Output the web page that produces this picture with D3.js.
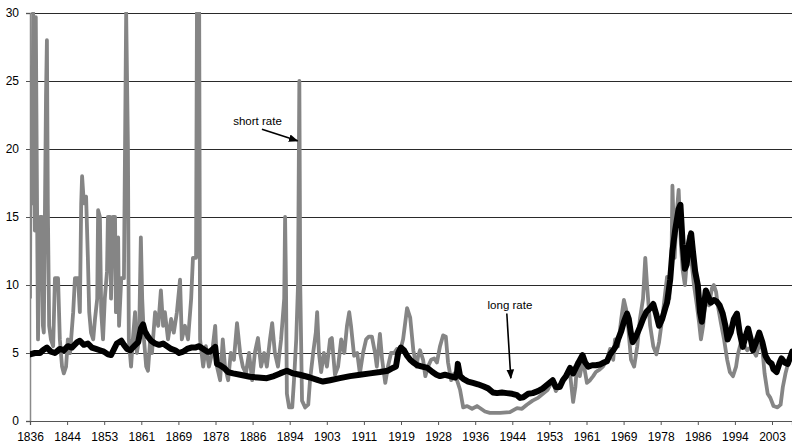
<!DOCTYPE html>
<html>
<head>
<meta charset="utf-8">
<script src="https://cdn.jsdelivr.net/npm/d3@7"></script>
<style>
  html, body { margin: 0; padding: 0; background: #fff; }
  svg { display: block; font-family: Arial, "Liberation Sans", sans-serif; }
</style>
</head>
<body>
<svg id="chart" width="792" height="446"></svg>
<script>
// ---- data (decimal year, percent) ----
const tickLabels = ["1836","1844","1853","1861","1869","1878","1886","1894","1903","1911","1919","1928","1936","1944","1953","1961","1969","1978","1986","1994","2003"];
const yTicks = [0, 5, 10, 15, 20, 25, 30];

const shortRate = [
 [1836.5,9],[1836.7,26],[1837.0,16],[1837.2,30],[1837.6,14],[1837.8,29.7],[1838.1,15],[1838.3,6],[1838.75,15],[1839.2,15],[1839.4,7],[1839.6,6.5],
 [1840.1,24],[1840.3,28],[1840.5,16],[1840.8,7],[1841.2,6],[1841.7,5.5],[1842.1,10.5],[1842.8,10.5],[1843.2,6],[1843.7,4],[1844.1,3.5],[1844.6,4],
 [1845.0,6],[1845.5,5],[1846.2,8],[1846.6,10.5],[1847.3,10.5],[1847.7,8],[1848.0,16],[1848.2,18],[1848.6,16],[1849.1,16.5],[1849.5,12],[1849.8,8],
 [1850.2,6.5],[1850.7,6],[1851.1,7.5],[1851.6,9],[1851.8,15.5],[1852.2,15],[1852.5,8],[1852.9,6],[1853.3,9],[1853.8,11],[1854.0,15],[1854.5,15],
 [1854.7,9],[1855.1,15],[1855.6,15],[1855.8,8],[1856.3,13.5],[1856.5,7],[1857.0,10.5],[1857.6,10.5],[1858.1,30],[1858.5,20],[1858.7,6],[1859.2,4],
 [1859.6,6],[1860.1,8],[1860.5,5],[1861.0,6],[1861.4,13.5],[1861.7,9],[1862.1,6],[1862.6,4],[1863.0,3.7],[1863.5,6],[1863.9,5],[1864.6,8],
 [1865.3,7],[1865.9,9.6],[1866.4,7],[1866.8,8],[1867.5,6],[1868.2,7.5],[1868.8,6.5],[1869.5,8],[1870.2,10.4],[1870.6,6],[1871.3,7],[1872.0,6],
 [1872.7,9],[1873.1,12],[1873.8,12],[1874.0,30],[1874.5,30],[1874.7,6],[1875.4,4],[1876.0,5.5],[1876.7,4],[1877.4,5],[1878.1,7],[1878.5,4],
 [1879.2,3],[1879.8,6],[1880.3,4],[1881.0,3],[1881.6,5],[1882.3,4.5],[1883.0,7.2],[1883.7,5],[1884.3,4],[1885.0,3.5],[1885.7,5],[1886.4,3],
 [1887.0,5],[1887.7,6.1],[1888.4,4],[1889.1,5],[1889.7,4],[1890.4,6],[1890.9,7.2],[1891.5,5],[1892.2,4],[1892.9,6],[1893.6,9],[1893.8,15],
 [1894.0,10],[1894.2,2],[1894.7,1],[1895.4,1],[1895.8,3],[1896.3,6],[1896.7,10],[1897.0,25],[1897.2,10],[1897.6,1.5],[1898.3,1],[1899.0,1.2],
 [1899.4,3],[1900.1,5],[1900.7,6.5],[1901.0,8],[1901.4,5],[1901.9,3.6],[1902.5,5],[1903.2,4],[1903.9,6],[1904.3,6.1],[1905.0,3.4],[1905.7,4],
 [1906.4,6],[1907.1,5],[1907.7,7],[1908.2,8],[1908.6,7],[1909.3,4.8],[1910.0,5],[1910.6,3.5],[1911.3,5],[1912.0,6],[1912.6,6.2],[1913.3,6.2],
 [1914.0,5],[1914.4,4],[1915.1,6.4],[1915.6,4.5],[1916.3,2.8],[1916.9,4],[1917.6,5],[1918.3,5],[1918.9,5.3],[1919.6,5.1],[1920.3,6],[1921.0,7.8],
 [1921.2,8.3],[1921.9,7.6],[1922.6,5.2],[1923.3,4],[1923.7,4.8],[1924.1,5.2],[1924.8,4.5],[1925.3,3.3],[1925.9,4],[1926.6,4.5],[1927.3,4.6],[1927.9,4.3],
 [1928.6,5.5],[1929.3,6.3],[1929.9,6.2],[1930.4,4.3],[1931.1,3],[1931.8,3.5],[1932.4,3],[1933.1,2.3],[1933.8,1],[1934.7,1.1],[1935.8,0.9],[1936.9,1.1],
 [1937.8,0.9],[1938.7,0.7],[1939.8,0.6],[1942.1,0.6],[1944.3,0.65],[1945.9,0.95],[1947.0,0.9],[1948.1,1.2],[1949.4,1.5],[1950.6,1.7],[1951.7,2.0],[1952.8,2.3],
 [1953.9,3.0],[1954.6,2.2],[1955.5,2.6],[1956.2,3.1],[1956.9,3.2],[1957.8,3.5],[1958.5,1.4],[1959.0,2.5],[1959.4,4.3],[1960.0,3.3],[1960.7,4.5],[1961.6,2.8],
 [1962.3,3.0],[1963.0,3.3],[1963.6,3.6],[1964.5,3.8],[1965.2,4.0],[1966.1,4.5],[1966.8,5.3],[1967.5,4.5],[1967.9,6.0],[1968.6,5.5],[1969.3,7.5],[1969.9,8.9],
 [1970.4,8.2],[1970.9,6.8],[1971.5,4.5],[1972.2,4.0],[1972.9,5.5],[1973.5,7.5],[1974.2,9],[1974.7,12],[1975.1,10],[1975.8,7],[1976.5,5.5],[1977.2,4.9],
 [1977.8,5.8],[1978.5,7.5],[1979.2,9.5],[1979.6,10.6],[1980.1,9],[1980.6,12],[1980.8,17.3],[1981.3,12],[1981.7,15],[1982.2,17.0],[1982.7,13],[1983.1,11.1],
 [1983.6,10],[1984.0,11.5],[1984.5,13.6],[1985.0,12],[1985.6,10.1],[1986.3,8.5],[1986.8,7.2],[1987.2,6.0],[1987.7,7],[1988.3,9.2],[1989.0,8.5],[1989.7,9.8],
 [1990.1,10],[1990.6,9.5],[1991.0,8.5],[1991.7,7.2],[1992.4,6.0],[1993.1,4.5],[1993.7,3.6],[1994.4,3.3],[1995.1,4.0],[1995.5,4.9],[1996.2,5.8],[1996.9,5.6],
 [1997.6,5.2],[1998.3,5.4],[1998.9,5.2],[1999.6,4.8],[2000.3,5.6],[2001.0,5.3],[2001.5,3.5],[2002.2,2],[2002.8,1.7],[2003.5,1.1],[2004.4,1.0],[2005.1,1.2],
 [2005.6,2.5],[2006.2,3.5],[2006.9,4.4],[2007.6,4.8],[2007.7,4.9]
];

const longRate = [
 [1836.5,4.9],[1837.6,5.0],[1838.75,5.0],[1839.4,5.2],[1840.3,5.4],[1841.2,5.1],[1842.1,5.0],[1843.2,5.3],[1844.1,5.2],[1845.0,5.5],[1845.9,5.4],[1847.1,5.8],
 [1847.7,5.9],[1848.6,5.6],[1849.5,5.7],[1850.4,5.4],[1851.3,5.3],[1852.2,5.2],[1853.1,5.1],[1854.0,4.9],[1854.7,4.85],[1855.4,5.3],[1856.0,5.7],[1857.0,5.9],
 [1857.6,5.6],[1858.3,5.3],[1859.0,5.2],[1859.9,5.5],[1860.8,5.8],[1861.4,6.8],[1861.9,7.1],[1862.3,6.6],[1863.0,6.2],[1863.7,5.9],[1864.6,5.7],[1865.5,5.6],
 [1866.4,5.7],[1867.3,5.5],[1868.2,5.3],[1869.1,5.2],[1870.0,5.0],[1870.9,5.1],[1871.8,5.3],[1872.7,5.4],[1873.6,5.4],[1874.5,5.5],[1875.4,5.3],[1876.3,5.1],
 [1876.9,5.1],[1877.6,5.3],[1878.1,5.45],[1878.5,4.2],[1879.2,4.1],[1880.1,3.9],[1881.0,3.6],[1882.1,3.5],[1883.7,3.4],[1885.9,3.25],[1887.7,3.2],[1889.7,3.15],
 [1891.3,3.3],[1892.7,3.5],[1894.2,3.7],[1895.6,3.5],[1897.1,3.4],[1899.4,3.2],[1901.2,3.0],[1902.3,2.9],[1903.9,3.0],[1906.1,3.15],[1908.4,3.3],[1910.6,3.4],
 [1912.9,3.5],[1915.1,3.6],[1916.9,3.7],[1918.0,3.9],[1918.7,4.0],[1919.2,5.0],[1919.8,5.4],[1920.5,5.2],[1921.2,4.8],[1921.9,4.5],[1922.6,4.3],[1923.5,4.1],
 [1924.6,4.0],[1925.8,3.9],[1926.9,3.6],[1927.8,3.4],[1928.6,3.3],[1929.7,3.4],[1930.8,3.3],[1932.0,3.2],[1932.4,3.5],[1932.6,4.2],[1933.1,3.3],[1933.8,3.1],
 [1934.9,2.9],[1936.0,2.8],[1937.1,2.7],[1938.3,2.55],[1939.4,2.4],[1940.5,2.1],[1941.4,2.05],[1942.5,2.1],[1943.6,2.05],[1944.8,2.0],[1945.9,1.9],[1946.6,1.7],
 [1947.3,1.75],[1948.4,2.0],[1949.4,2.05],[1950.6,2.2],[1951.7,2.4],[1952.8,2.7],[1953.9,3.0],[1954.6,2.5],[1955.5,2.5],[1956.2,3.0],[1956.9,3.3],[1957.8,3.9],
 [1958.5,3.5],[1959.4,4.1],[1960.6,4.85],[1961.2,4.3],[1961.9,4.0],[1962.8,4.1],[1963.6,4.1],[1964.5,4.15],[1965.4,4.3],[1966.1,4.4],[1966.8,4.9],[1967.5,5.2],
 [1968.1,5.5],[1968.6,6.0],[1969.3,6.6],[1969.9,7.3],[1970.6,7.9],[1971.0,7.5],[1971.5,6.4],[1971.9,5.8],[1972.6,6.2],[1973.5,6.9],[1974.2,7.5],[1974.9,8.0],
 [1975.8,8.3],[1976.5,8.6],[1977.2,7.8],[1977.8,7.0],[1978.5,7.5],[1979.2,8.3],[1979.6,8.7],[1980.3,10.4],[1980.8,12.5],[1981.4,14.0],[1982.2,15.6],[1982.6,15.9],
 [1983.1,13.0],[1983.6,11.2],[1984.0,11.5],[1984.5,13.0],[1985.0,13.8],[1985.4,12.5],[1985.9,11],[1986.5,10.0],[1987.0,8.0],[1987.4,7.3],[1987.9,8.5],[1988.3,9.6],
 [1988.8,9.2],[1989.4,8.7],[1990.1,8.9],[1990.7,8.8],[1991.4,8.5],[1992.1,7.9],[1992.7,7.0],[1993.2,6.0],[1993.9,6.5],[1994.6,7.5],[1995.3,7.9],[1995.9,6.5],
 [1996.6,5.45],[1997.3,6.3],[1997.8,6.8],[1998.4,6.0],[1998.9,5.2],[1999.6,5.8],[2000.3,6.5],[2001.0,5.8],[2001.7,4.8],[2002.4,4.4],[2003.1,4.2],[2003.5,3.8],
 [2004.2,3.6],[2004.9,4.3],[2005.3,4.6],[2006.0,4.3],[2006.7,4.2],[2007.4,4.8],[2007.7,5.1]
];

const annotations = [
  { text: "short rate", tx: 1887.6, ty: 21.75, from: [1888.6, 21.45], to: [1896.6, 20.6] },
  { text: "long rate",  tx: 1944.3, ty: 8.25,  from: [1943.6, 7.9],  to: [1944.5, 3.15] }
];

// ---- layout ----
const M = { left: 30, right: 792, top: 13, bottom: 421 };
const firstYear = 1836.5, monthsPerTick = 100;
const x = d3.scaleLinear().domain([firstYear, firstYear + (M.right - M.left) / 4.452]).range([M.left, M.right]);
const y = d3.scaleLinear().domain([0, 30]).range([M.bottom, M.top]);

const svg = d3.select("#chart");
const defs = svg.append("defs");
defs.append("clipPath").attr("id", "clip")
  .append("rect").attr("x", M.left).attr("y", M.top - 1).attr("width", M.right - M.left).attr("height", M.bottom - M.top + 1);
defs.append("marker").attr("id", "arrow")
  .attr("viewBox", "0 0 10 10").attr("refX", 9).attr("refY", 5)
  .attr("markerWidth", 6).attr("markerHeight", 6).attr("orient", "auto")
  .attr("markerUnits", "strokeWidth")
  .append("path").attr("d", "M0,1 L10,5 L0,9 z").attr("fill", "#000");

// gridlines
svg.append("g").selectAll("line").data(yTicks.filter(d => d > 0)).join("line")
  .attr("x1", M.left).attr("x2", M.right)
  .attr("y1", d => Math.round(y(d)) + 0.5).attr("y2", d => Math.round(y(d)) + 0.5)
  .attr("stroke", "#2a2a2a").attr("stroke-width", 1);

// y axis
const yAxis = d3.axisLeft(y).tickValues(yTicks).tickSize(4).tickFormat(d3.format("d"));
const gy = svg.append("g").attr("transform", `translate(${M.left},0)`).call(yAxis);
gy.select(".domain").attr("stroke", "#8a8a8a").attr("stroke-width", 1.5);
gy.selectAll(".tick line").attr("stroke", "#555");
gy.selectAll("text").attr("font-size", 12).attr("fill", "#000").attr("x", -11)
  .attr("font-family", "Arial, 'Liberation Sans', sans-serif");

// x axis
const tickYears = tickLabels.map((d, i) => firstYear + i * monthsPerTick / 12);
const xAxis = d3.axisBottom(x).tickValues(tickYears).tickSize(4)
  .tickFormat((d, i) => tickLabels[i]);
const gx = svg.append("g").attr("transform", `translate(0,${M.bottom})`).call(xAxis);
gx.select(".domain").attr("stroke", "#555").attr("stroke-width", 1.2);
gx.selectAll(".tick line").attr("stroke", "#555");
gx.selectAll("text").attr("font-size", 12).attr("fill", "#000").attr("dy", "1.05em")
  .attr("font-family", "Arial, 'Liberation Sans', sans-serif");

// lines
const line = d3.line().x(d => x(d[0])).y(d => y(d[1]));
const plot = svg.append("g").attr("clip-path", "url(#clip)");
plot.append("path").datum(shortRate).attr("d", line)
  .attr("fill", "none").attr("stroke", "#858585").attr("stroke-width", 3.8)
  .attr("stroke-linejoin", "round");
plot.append("path").datum(longRate).attr("d", line)
  .attr("fill", "none").attr("stroke", "#000").attr("stroke-width", 6)
  .attr("stroke-linejoin", "round").attr("stroke-linecap", "round");

// annotations
const ann = svg.append("g");
annotations.forEach(a => {
  ann.append("text").attr("x", x(a.tx)).attr("y", y(a.ty)).attr("text-anchor", "middle")
    .attr("font-size", 11.5).attr("fill", "#000").text(a.text);
  ann.append("line").attr("x1", x(a.from[0])).attr("y1", y(a.from[1]))
    .attr("x2", x(a.to[0])).attr("y2", y(a.to[1]))
    .attr("stroke", "#000").attr("stroke-width", 1.6).attr("marker-end", "url(#arrow)");
});
</script>
</body>
</html>
